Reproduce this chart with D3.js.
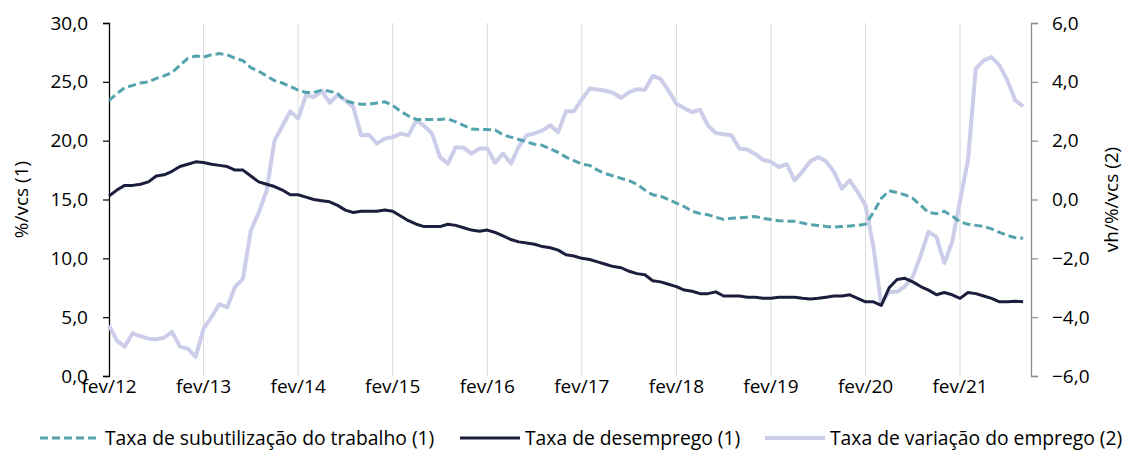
<!DOCTYPE html>
<html>
<head>
<meta charset="utf-8">
<script src="https://cdn.jsdelivr.net/npm/d3@7"></script>
<style>
  body { margin: 0; background: #fff; }
  svg { display: block; }
  text { font-family: "Open Sans", "Noto Sans", sans-serif; fill: #000; }
</style>
</head>
<body>
<script>
var width = 1127, height = 452;

// monthly, fev/2012 .. out/2021
var tickLabels = ["fev/12", "fev/13", "fev/14", "fev/15", "fev/16", "fev/17", "fev/18", "fev/19", "fev/20", "fev/21"];

var subutilizacao = [23.4, 24.0, 24.5, 24.7, 24.9, 25.0, 25.3, 25.5, 25.8, 26.4, 27.0, 27.2,
  27.1, 27.3, 27.4, 27.3, 27.0, 26.8, 26.2, 25.9, 25.5, 25.1, 24.9, 24.6,
  24.3, 24.1, 24.1, 24.3, 24.2, 24.0, 23.4, 23.2, 23.1, 23.1, 23.2, 23.3,
  23.0, 22.5, 22.1, 21.8, 21.8, 21.8, 21.8, 21.85, 21.6, 21.3, 21.0, 20.95,
  20.95, 20.9, 20.5, 20.3, 20.1, 19.9, 19.7, 19.6, 19.3, 19.0, 18.6, 18.3,
  18.0, 17.9, 17.5, 17.2, 17.0, 16.8, 16.6, 16.3, 15.8, 15.4, 15.3, 15.0,
  14.7, 14.4, 14.0, 13.8, 13.7, 13.5, 13.3, 13.4, 13.45, 13.5, 13.55, 13.4,
  13.3, 13.2, 13.15, 13.15, 13.0, 12.85, 12.8, 12.7, 12.65, 12.7, 12.75, 12.8,
  12.9, 13.9, 15.1, 15.75, 15.6, 15.4, 15.1, 14.5, 13.9, 13.8, 14.0, 13.6,
  13.1, 12.9, 12.8, 12.7, 12.5, 12.2, 11.95, 11.75, 11.7];

var desemprego = [15.3, 15.8, 16.2, 16.2, 16.3, 16.5, 17.0, 17.1, 17.4, 17.8, 18.0, 18.2,
  18.15, 18.0, 17.9, 17.8, 17.5, 17.5, 17.0, 16.5, 16.3, 16.1, 15.8, 15.4,
  15.4, 15.2, 15.0, 14.9, 14.8, 14.5, 14.1, 13.9, 14.0, 14.0, 14.0, 14.1,
  14.0, 13.6, 13.2, 12.9, 12.7, 12.7, 12.7, 12.9, 12.8, 12.6, 12.4, 12.3,
  12.4, 12.2, 11.9, 11.6, 11.4, 11.3, 11.2, 11.0, 10.9, 10.7, 10.3, 10.2,
  10.0, 9.9, 9.7, 9.5, 9.3, 9.2, 8.9, 8.7, 8.6, 8.1, 8.0, 7.8,
  7.6, 7.3, 7.2, 7.0, 7.0, 7.15, 6.8, 6.8, 6.8, 6.7, 6.7, 6.6,
  6.6, 6.7, 6.7, 6.7, 6.6, 6.55, 6.6, 6.7, 6.8, 6.8, 6.9, 6.6,
  6.3, 6.3, 6.0, 7.5, 8.2, 8.3, 8.0, 7.6, 7.3, 6.9, 7.1, 6.9,
  6.6, 7.1, 7.0, 6.8, 6.6, 6.3, 6.3, 6.35, 6.3];

var variacaoEmprego = [-4.28, -4.8, -5.0, -4.55, -4.65, -4.73, -4.75, -4.7, -4.5, -5.0, -5.07, -5.35,
  -4.39, -4.0, -3.56, -3.67, -2.97, -2.7, -1.05, -0.45, 0.3, 2.0, 2.5, 3.0,
  2.75, 3.55, 3.48, 3.69, 3.29, 3.55, 3.37, 3.14, 2.18, 2.2, 1.9, 2.07,
  2.12, 2.24, 2.18, 2.69, 2.5, 2.24, 1.44, 1.22, 1.78, 1.76, 1.56, 1.73,
  1.73, 1.25, 1.56, 1.22, 1.8, 2.18, 2.25, 2.35, 2.52, 2.29, 3.0, 3.0,
  3.4, 3.77, 3.74, 3.7, 3.62, 3.45, 3.65, 3.75, 3.73, 4.2, 4.1, 3.7,
  3.26, 3.1, 2.97, 3.05, 2.52, 2.26, 2.22, 2.18, 1.73, 1.7, 1.55, 1.35,
  1.28, 1.1, 1.2, 0.65, 0.95, 1.3, 1.44, 1.3, 0.94, 0.37, 0.65, 0.25,
  -0.2, -1.61, -3.56, -3.14, -3.14, -2.95, -2.63, -1.9, -1.1, -1.27, -2.16, -1.44,
  -0.03, 1.33, 4.45, 4.73, 4.84, 4.56, 4.05, 3.37, 3.17];

var leftTicks = [0, 5, 10, 15, 20, 25, 30];
var rightTicks = [-6, -4, -2, 0, 2, 4, 6];

var seriesNames = ["Taxa de subutilização do trabalho (1)", "Taxa de desemprego (1)", "Taxa de variação do emprego (2)"];
var colors = ["#55a4ad", "#1b1e3d", "#cbcde9"];

var margin = {left: 109, right: 96, top: 23, bottom: 76};
var x = d3.scaleLinear().domain([0, 117]).range([margin.left, width - margin.right]);
var yL = d3.scaleLinear().domain([0, 30]).range([height - margin.bottom, margin.top]);
var yR = d3.scaleLinear().domain([-6, 6]).range([height - margin.bottom, margin.top]);

var svg = d3.select("body").append("svg")
  .attr("width", width)
  .attr("height", height);

// vertical gridlines at each fev
var gridIdx = tickLabels.map(function(d, i){ return i * 12; });
svg.append("g")
  .selectAll("line")
  .data(gridIdx.slice(1))
  .enter().append("line")
  .attr("x1", d => x(d)).attr("x2", d => x(d))
  .attr("y1", yL(30)).attr("y2", yL(0))
  .attr("stroke", "#d9d9d9")
  .attr("stroke-width", 1);

// x labels
svg.append("g")
  .selectAll("text")
  .data(tickLabels)
  .enter().append("text")
  .attr("x", (d, i) => x(i * 12))
  .attr("y", yL(0) + 17)
  .attr("text-anchor", "middle")
  .style("font-size", "19px")
  .text(d => d);

// left axis
var fmt = d3.format(".1f");
var comma = function(d){ return fmt(d).replace(".", ","); };

var gL = svg.append("g").attr("transform", "translate(" + margin.left + ",0)")
  .call(d3.axisLeft(yL).tickValues(leftTicks).tickSize(6).tickPadding(15).tickFormat(comma));
gL.select(".domain").attr("stroke", "#000").attr("stroke-width", 1.3);
gL.selectAll(".tick line").attr("stroke", "#000").attr("stroke-width", 1.2);
gL.selectAll("text").style("font-size", "19px").style("font-family", "'Open Sans', sans-serif").attr("fill", "#000");

var gR = svg.append("g").attr("transform", "translate(" + (width - margin.right) + ",0)")
  .call(d3.axisRight(yR).tickValues(rightTicks).tickSize(7).tickPadding(14).tickFormat(comma));
gR.select(".domain").attr("stroke", "#8c8c8c").attr("stroke-width", 1.3);
gR.selectAll(".tick line").attr("stroke", "#8c8c8c").attr("stroke-width", 1.2);
gR.selectAll("text").style("font-size", "19px").style("font-family", "'Open Sans', sans-serif").attr("fill", "#000");

// axis titles
svg.append("text")
  .attr("transform", "translate(21," + yL(15) + ") rotate(-90)")
  .attr("text-anchor", "middle")
  .attr("dy", "0.35em")
  .style("font-size", "19px")
  .text("%/vcs (1)");
svg.append("text")
  .attr("transform", "translate(1111," + yL(15) + ") rotate(-90)")
  .attr("text-anchor", "middle")
  .attr("dy", "0.35em")
  .style("font-size", "19px")
  .text("vh/%/vcs (2)");

// lines
var lineL = d3.line().x((d, i) => x(i)).y(d => yL(d));
var lineR = d3.line().x((d, i) => x(i)).y(d => yR(d));

svg.append("path")
  .datum(variacaoEmprego)
  .attr("d", lineR)
  .attr("fill", "none")
  .attr("stroke", colors[2])
  .attr("stroke-width", 4)
  .attr("stroke-linejoin", "round");

svg.append("path")
  .datum(desemprego)
  .attr("d", lineL)
  .attr("fill", "none")
  .attr("stroke", colors[1])
  .attr("stroke-width", 3)
  .attr("stroke-linejoin", "round");

svg.append("path")
  .datum(subutilizacao)
  .attr("d", lineL)
  .attr("fill", "none")
  .attr("stroke", colors[0])
  .attr("stroke-width", 3)
  .attr("stroke-dasharray", "8,4");

// legend
var legX = [40, 460, 765];
var leg = svg.append("g").selectAll("g")
  .data(seriesNames)
  .enter().append("g")
  .attr("transform", (d, i) => "translate(" + legX[i] + ",438)");
leg.append("line")
  .attr("x1", 0).attr("x2", 60)
  .attr("stroke", (d, i) => colors[i])
  .attr("stroke-width", (d, i) => i == 2 ? 4 : 3)
  .attr("stroke-dasharray", (d, i) => i == 0 ? "8,4" : null);
leg.append("text")
  .attr("x", 65)
  .attr("dy", "0.35em")
  .style("font-size", "19.3px")
  .text(d => d);
</script>
</body>
</html>
